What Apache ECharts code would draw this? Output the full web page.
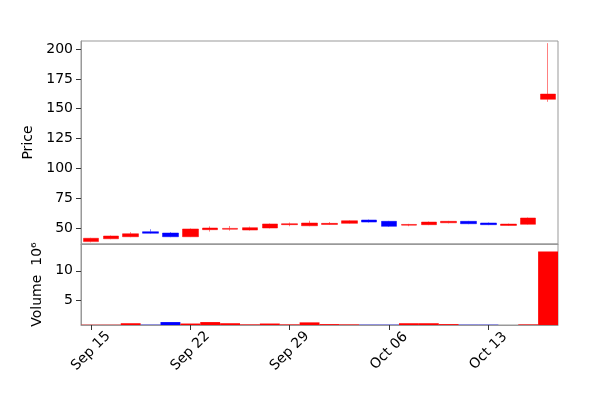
<!DOCTYPE html>
<html>
<head>
<meta charset="utf-8">
<script src="https://cdn.jsdelivr.net/npm/echarts@6/dist/echarts.min.js"></script>
<style>html,body{margin:0;padding:0;background:#fff}#c{width:600px;height:408px}</style>
</head>
<body>
<div id="c"></div>
<script>
// trading days
const dates = ['Sep 15','Sep 16','Sep 17','Sep 18','Sep 19','Sep 22','Sep 23','Sep 24','Sep 25','Sep 26',
  'Sep 29','Sep 30','Oct 01','Oct 02','Oct 03','Oct 06','Oct 07','Oct 08','Oct 09','Oct 10',
  'Oct 13','Oct 14','Oct 15','Oct 16']
const opens  = [38.6, 41.0, 42.7, 46.9, 45.8, 42.7, 48.6, 49.0, 48.3, 50.0, 52.8, 51.9, 53.0, 53.9, 56.7, 55.6, 52.4, 52.8, 54.4, 55.6, 54.2, 52.2, 53.1, 157.9]
const closes = [41.4, 43.3, 45.2, 45.6, 42.7, 49.2, 50.0, 49.7, 50.3, 53.4, 53.6, 54.2, 53.9, 56.1, 55.0, 51.4, 53.0, 55.0, 55.6, 53.6, 52.8, 53.3, 58.4, 162.3]
const lows   = [38.0, 40.6, 42.3, 45.3, 42.3, 42.4, 47.0, 47.8, 47.9, 49.7, 51.5, 51.5, 52.7, 53.6, 54.6, 50.9, 51.5, 52.4, 53.9, 53.2, 52.4, 51.8, 52.8, 155.8]
const highs  = [41.8, 43.7, 46.5, 49.0, 46.5, 49.6, 51.4, 51.7, 51.2, 53.8, 54.6, 56.1, 55.0, 56.5, 57.1, 56.0, 53.5, 55.4, 56.0, 56.0, 54.6, 53.7, 58.8, 205.0]
const volumes = [0.75, 0.75, 1.0, 0.75, 1.2, 0.95, 1.2, 1.0, 0.8, 0.95, 0.8, 1.15, 0.85, 0.8, 0.75, 0.75, 1.0, 1.0, 0.85, 0.75, 0.75, 0.6, 0.8, 13.3]
const priceTicks = [50, 75, 100, 125, 150, 175, 200]
const volumeTicks = [5, 10]
const dateLabels = ['Sep 15', 'Sep 22', 'Sep 29', 'Oct 06', 'Oct 13']

const UP = '#ff0000'
const DOWN = '#0000ff'
const FONT = 'DejaVu Sans'

const chart = echarts.init(document.getElementById('c'))

const candleData = dates.map((d, i) => [opens[i], closes[i], lows[i], highs[i]])
const volData = volumes.map((v, i) => ({
  value: v,
  itemStyle: { color: closes[i] >= opens[i] ? UP : DOWN }
}))

const axisLine = { show: true, lineStyle: { color: '#999', width: 1 } }
const labelIdx = dateLabels.map(d => dates.indexOf(d))

chart.setOption({
  animation: false,
  textStyle: { fontFamily: FONT },
  grid: [
    { left: 81, right: 42, top: 41, height: 203, show: true, borderColor: '#999', borderWidth: 1 },
    { left: 81, right: 42, top: 244, height: 81, show: true, borderColor: '#999', borderWidth: 1 }
  ],
  xAxis: [
    { type: 'category', data: dates, gridIndex: 0, axisLine, axisTick: { show: false }, axisLabel: { show: false } },
    {
      type: 'category', data: dates, gridIndex: 1, axisLine,
      axisTick: { show: true, alignWithLabel: true, customValues: labelIdx, lineStyle: { color: '#333' } },
      axisLabel: { rotate: 45, fontSize: 14, color: '#000', customValues: labelIdx, align: 'center', verticalAlign: 'middle', margin: 26 }
    }
  ],
  yAxis: [
    {
      type: 'value', gridIndex: 0, min: 36.6, max: 206.8, name: 'Price', nameLocation: 'middle', nameGap: 20,
      nameTextStyle: { fontSize: 14, color: '#000' }, axisLine, splitLine: { show: false },
      axisTick: { show: true, customValues: priceTicks, lineStyle: { color: '#333' } },
      axisLabel: { fontSize: 14, color: '#000', customValues: priceTicks }
    },
    {
      type: 'value', gridIndex: 1, min: 0.7, max: 14.6, name: 'Volume  10⁶', nameLocation: 'middle', nameGap: 9,
      nameTextStyle: { fontSize: 14, color: '#000' }, axisLine, splitLine: { show: false },
      axisTick: { show: true, customValues: volumeTicks, lineStyle: { color: '#333' } },
      axisLabel: { fontSize: 14, color: '#000', customValues: volumeTicks }
    }
  ],
  series: [
    {
      type: 'candlestick', xAxisIndex: 0, yAxisIndex: 0, data: candleData, barWidth: '80%',
      itemStyle: { color: UP, color0: DOWN, borderColor: UP, borderColor0: DOWN, borderWidth: 0.5 }
    },
    { type: 'bar', xAxisIndex: 1, yAxisIndex: 1, data: volData, barWidth: '100%' }
  ]
})
</script>
</body>
</html>
